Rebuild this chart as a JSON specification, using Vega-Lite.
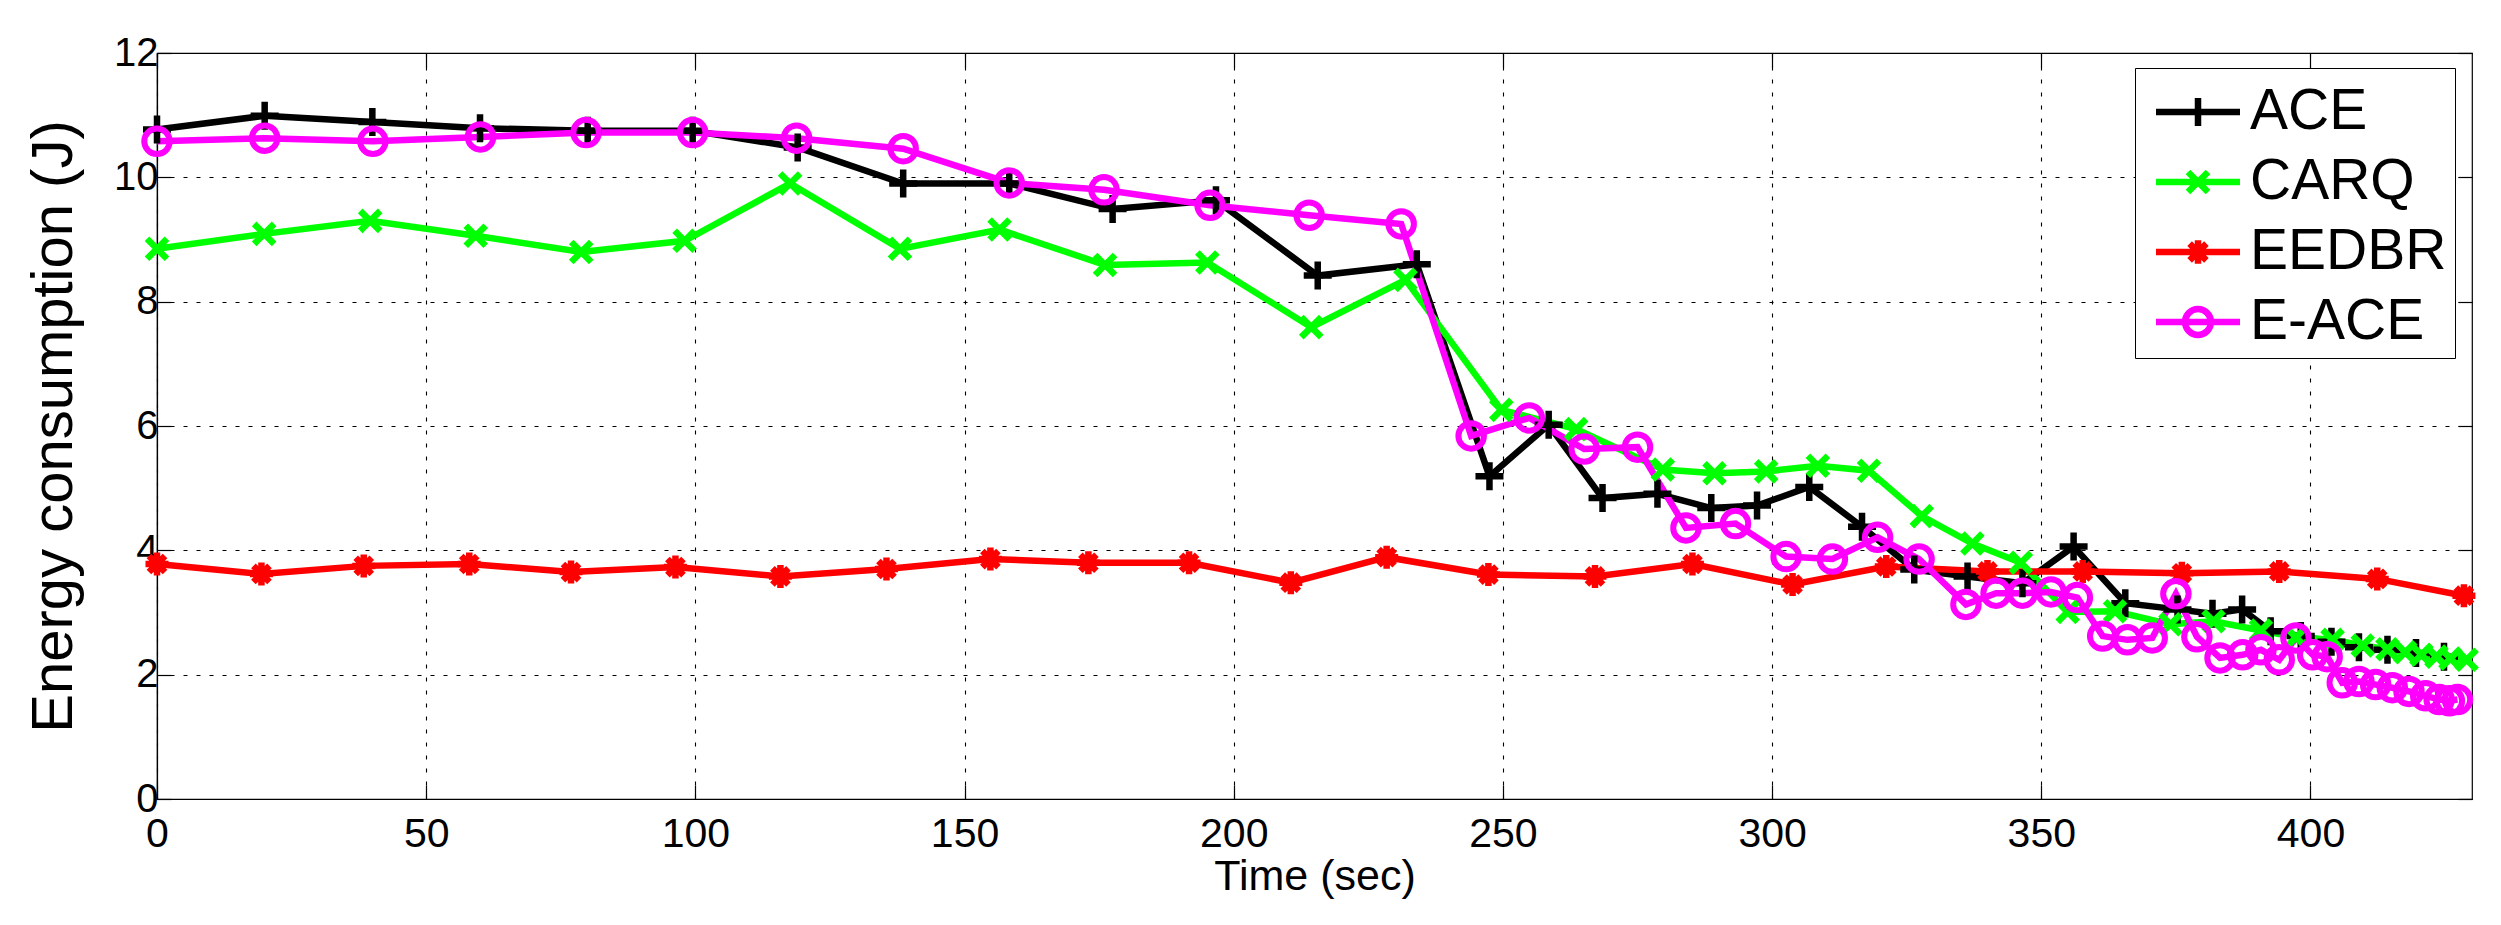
{
  "$schema": "https://vega.github.io/schema/vega-lite/v6.json",
  "width": 2315,
  "height": 746,
  "autosize": {"type": "none"},
  "padding": {"left": 157, "top": 53, "right": 29, "bottom": 126},
  "background": "white",
  "config": {
    "view": {"stroke": "black", "strokeWidth": 1.2},
    "axis": {
      "labelFont": "Liberation Sans",
      "titleFont": "Liberation Sans",
      "labelColor": "black",
      "titleColor": "black",
      "titleFontWeight": "normal",
      "domainColor": "black",
      "domainWidth": 1.2,
      "tickColor": "black",
      "tickWidth": 1.2,
      "gridColor": "black",
      "gridOpacity": 1,
      "gridWidth": 1.1,
      "gridDash": [4, 9],
      "labelFlush": false,
      "labelOverlap": false,
      "labelBound": false
    }
  },
  "data": {
    "values": [
      {"method": "ACE", "t": 0, "e": 10.77},
      {"method": "ACE", "t": 20, "e": 10.99},
      {"method": "ACE", "t": 40, "e": 10.89},
      {"method": "ACE", "t": 60, "e": 10.79},
      {"method": "ACE", "t": 80, "e": 10.75},
      {"method": "ACE", "t": 99.5, "e": 10.75},
      {"method": "ACE", "t": 119, "e": 10.48},
      {"method": "ACE", "t": 138.6, "e": 9.9},
      {"method": "ACE", "t": 158.3, "e": 9.9},
      {"method": "ACE", "t": 177.5, "e": 9.49},
      {"method": "ACE", "t": 196.7, "e": 9.63},
      {"method": "ACE", "t": 215.6, "e": 8.42},
      {"method": "ACE", "t": 234, "e": 8.6},
      {"method": "ACE", "t": 247.5, "e": 5.19},
      {"method": "ACE", "t": 258.5, "e": 6.02},
      {"method": "ACE", "t": 268.5, "e": 4.84},
      {"method": "ACE", "t": 278.7, "e": 4.91},
      {"method": "ACE", "t": 288.7, "e": 4.68},
      {"method": "ACE", "t": 297.2, "e": 4.72},
      {"method": "ACE", "t": 306.9, "e": 5.02},
      {"method": "ACE", "t": 316.7, "e": 4.38},
      {"method": "ACE", "t": 326.4, "e": 3.69},
      {"method": "ACE", "t": 336.3, "e": 3.58},
      {"method": "ACE", "t": 346.5, "e": 3.47},
      {"method": "ACE", "t": 356, "e": 4.06},
      {"method": "ACE", "t": 365.6, "e": 3.15},
      {"method": "ACE", "t": 375.3, "e": 3.05},
      {"method": "ACE", "t": 381.8, "e": 2.98},
      {"method": "ACE", "t": 387.3, "e": 3.05},
      {"method": "ACE", "t": 392.6, "e": 2.7},
      {"method": "ACE", "t": 398.2, "e": 2.62},
      {"method": "ACE", "t": 403.9, "e": 2.53},
      {"method": "ACE", "t": 409, "e": 2.44},
      {"method": "ACE", "t": 414.3, "e": 2.4},
      {"method": "ACE", "t": 419.6, "e": 2.35},
      {"method": "ACE", "t": 424.8, "e": 2.29},
      {"method": "CARQ", "t": 0, "e": 8.85},
      {"method": "CARQ", "t": 19.9, "e": 9.09},
      {"method": "CARQ", "t": 39.6, "e": 9.3},
      {"method": "CARQ", "t": 59.2, "e": 9.06},
      {"method": "CARQ", "t": 78.8, "e": 8.8},
      {"method": "CARQ", "t": 98, "e": 8.98},
      {"method": "CARQ", "t": 117.6, "e": 9.9},
      {"method": "CARQ", "t": 138, "e": 8.85},
      {"method": "CARQ", "t": 156.5, "e": 9.16},
      {"method": "CARQ", "t": 176.1, "e": 8.59},
      {"method": "CARQ", "t": 195.1, "e": 8.63},
      {"method": "CARQ", "t": 214.4, "e": 7.59},
      {"method": "CARQ", "t": 231.9, "e": 8.35},
      {"method": "CARQ", "t": 249.7, "e": 6.26},
      {"method": "CARQ", "t": 263.6, "e": 5.95},
      {"method": "CARQ", "t": 279.7, "e": 5.3},
      {"method": "CARQ", "t": 289.3, "e": 5.24},
      {"method": "CARQ", "t": 298.9, "e": 5.27},
      {"method": "CARQ", "t": 308.5, "e": 5.36},
      {"method": "CARQ", "t": 318, "e": 5.28},
      {"method": "CARQ", "t": 327.8, "e": 4.55},
      {"method": "CARQ", "t": 337.2, "e": 4.11},
      {"method": "CARQ", "t": 346.2, "e": 3.8},
      {"method": "CARQ", "t": 354.9, "e": 3.01},
      {"method": "CARQ", "t": 363.7, "e": 3.02},
      {"method": "CARQ", "t": 374, "e": 2.81},
      {"method": "CARQ", "t": 382, "e": 2.86},
      {"method": "CARQ", "t": 390.8, "e": 2.71},
      {"method": "CARQ", "t": 397.3, "e": 2.6},
      {"method": "CARQ", "t": 404.1, "e": 2.56},
      {"method": "CARQ", "t": 409.7, "e": 2.47},
      {"method": "CARQ", "t": 414.3, "e": 2.41},
      {"method": "CARQ", "t": 417.6, "e": 2.36},
      {"method": "CARQ", "t": 420.6, "e": 2.32},
      {"method": "CARQ", "t": 423.4, "e": 2.29},
      {"method": "CARQ", "t": 426, "e": 2.26},
      {"method": "CARQ", "t": 429, "e": 2.24},
      {"method": "EEDBR", "t": 0, "e": 3.78},
      {"method": "EEDBR", "t": 19.4, "e": 3.62},
      {"method": "EEDBR", "t": 38.4, "e": 3.75},
      {"method": "EEDBR", "t": 58, "e": 3.78},
      {"method": "EEDBR", "t": 76.9, "e": 3.65},
      {"method": "EEDBR", "t": 96.3, "e": 3.73},
      {"method": "EEDBR", "t": 115.8, "e": 3.58},
      {"method": "EEDBR", "t": 135.5, "e": 3.7},
      {"method": "EEDBR", "t": 154.8, "e": 3.86},
      {"method": "EEDBR", "t": 173, "e": 3.8},
      {"method": "EEDBR", "t": 191.7, "e": 3.8},
      {"method": "EEDBR", "t": 210.6, "e": 3.48},
      {"method": "EEDBR", "t": 228.4, "e": 3.89},
      {"method": "EEDBR", "t": 247.3, "e": 3.61},
      {"method": "EEDBR", "t": 267.1, "e": 3.58},
      {"method": "EEDBR", "t": 285.2, "e": 3.78},
      {"method": "EEDBR", "t": 303.8, "e": 3.45},
      {"method": "EEDBR", "t": 321.2, "e": 3.74},
      {"method": "EEDBR", "t": 340, "e": 3.66},
      {"method": "EEDBR", "t": 357.7, "e": 3.66},
      {"method": "EEDBR", "t": 376.1, "e": 3.63},
      {"method": "EEDBR", "t": 394.2, "e": 3.66},
      {"method": "EEDBR", "t": 412.4, "e": 3.54},
      {"method": "EEDBR", "t": 428.5, "e": 3.27},
      {"method": "E-ACE", "t": 0, "e": 10.58},
      {"method": "E-ACE", "t": 20, "e": 10.63},
      {"method": "E-ACE", "t": 40.1, "e": 10.58},
      {"method": "E-ACE", "t": 60.1, "e": 10.65},
      {"method": "E-ACE", "t": 79.7, "e": 10.72},
      {"method": "E-ACE", "t": 99.5, "e": 10.72},
      {"method": "E-ACE", "t": 118.8, "e": 10.63},
      {"method": "E-ACE", "t": 138.6, "e": 10.46},
      {"method": "E-ACE", "t": 158.3, "e": 9.91},
      {"method": "E-ACE", "t": 175.9, "e": 9.8},
      {"method": "E-ACE", "t": 195.6, "e": 9.55},
      {"method": "E-ACE", "t": 214, "e": 9.39},
      {"method": "E-ACE", "t": 231.1, "e": 9.25},
      {"method": "E-ACE", "t": 244.1, "e": 5.84},
      {"method": "E-ACE", "t": 254.9, "e": 6.13},
      {"method": "E-ACE", "t": 265.1, "e": 5.63},
      {"method": "E-ACE", "t": 275, "e": 5.66},
      {"method": "E-ACE", "t": 284, "e": 4.36},
      {"method": "E-ACE", "t": 293.2, "e": 4.43},
      {"method": "E-ACE", "t": 302.6, "e": 3.9},
      {"method": "E-ACE", "t": 311.2, "e": 3.86},
      {"method": "E-ACE", "t": 319.6, "e": 4.21},
      {"method": "E-ACE", "t": 327.3, "e": 3.86},
      {"method": "E-ACE", "t": 336, "e": 3.13},
      {"method": "E-ACE", "t": 341.6, "e": 3.31},
      {"method": "E-ACE", "t": 346.5, "e": 3.31},
      {"method": "E-ACE", "t": 351.8, "e": 3.33},
      {"method": "E-ACE", "t": 356.7, "e": 3.24},
      {"method": "E-ACE", "t": 361.4, "e": 2.62},
      {"method": "E-ACE", "t": 366, "e": 2.56},
      {"method": "E-ACE", "t": 370.6, "e": 2.59},
      {"method": "E-ACE", "t": 375, "e": 3.3},
      {"method": "E-ACE", "t": 378.9, "e": 2.61},
      {"method": "E-ACE", "t": 383.2, "e": 2.27},
      {"method": "E-ACE", "t": 387.4, "e": 2.32},
      {"method": "E-ACE", "t": 390.8, "e": 2.4},
      {"method": "E-ACE", "t": 394.2, "e": 2.24},
      {"method": "E-ACE", "t": 397.3, "e": 2.59},
      {"method": "E-ACE", "t": 400.4, "e": 2.32},
      {"method": "E-ACE", "t": 403.1, "e": 2.29},
      {"method": "E-ACE", "t": 405.9, "e": 1.87},
      {"method": "E-ACE", "t": 409, "e": 1.89},
      {"method": "E-ACE", "t": 412.1, "e": 1.84},
      {"method": "E-ACE", "t": 415.2, "e": 1.79},
      {"method": "E-ACE", "t": 418.3, "e": 1.73},
      {"method": "E-ACE", "t": 421.4, "e": 1.66},
      {"method": "E-ACE", "t": 423.9, "e": 1.6},
      {"method": "E-ACE", "t": 425.8, "e": 1.58},
      {"method": "E-ACE", "t": 427.3, "e": 1.6}
    ]
  },
  "layer": [
    {
      "mark": {"type": "line", "strokeWidth": 6.5},
      "encoding": {
        "x": {
          "field": "t",
          "type": "quantitative",
          "scale": {"domain": [0, 430], "nice": false, "zero": false},
          "axis": {
            "values": [0, 50, 100, 150, 200, 250, 300, 350, 400],
            "title": "Time (sec)",
            "titleFontSize": 43,
            "labelFontSize": 41,
            "tickSize": -14,
            "labelPadding": 29,
            "titlePadding": 1
          }
        },
        "y": {
          "field": "e",
          "type": "quantitative",
          "scale": {"domain": [0, 12], "nice": false},
          "axis": {
            "values": [0, 2, 4, 6, 8, 10, 12],
            "title": "Energy consumption (J)",
            "titleFontSize": 58,
            "labelFontSize": 40,
            "tickSize": -14,
            "labelPadding": 13,
            "titlePadding": 30
          }
        },
        "stroke": {
          "field": "method",
          "type": "nominal",
          "scale": {
            "domain": ["ACE", "CARQ", "E-ACE", "EEDBR"],
            "range": ["#000000", "#00ff00", "#ff00ff", "#ff0000"]
          },
          "legend": null
        }
      }
    },
    {
      "transform": [{"filter": {"field": "method", "equal": "ACE"}}],
      "mark": {"type": "point", "shape": "M-1,0L1,0M0,-1L0,1", "size": 784, "filled": false, "stroke": "#000000", "strokeWidth": 6.5, "opacity": 1},
      "encoding": {
        "x": {"field": "t", "type": "quantitative", "axis": null},
        "y": {"field": "e", "type": "quantitative", "axis": null}
      }
    },
    {
      "transform": [{"filter": {"field": "method", "equal": "CARQ"}}],
      "mark": {"type": "point", "shape": "M-1,-1L1,1M-1,1L1,-1", "size": 400, "filled": false, "stroke": "#00ff00", "strokeWidth": 6.5, "opacity": 1},
      "encoding": {
        "x": {"field": "t", "type": "quantitative", "axis": null},
        "y": {"field": "e", "type": "quantitative", "axis": null}
      }
    },
    {
      "transform": [{"filter": {"field": "method", "equal": "EEDBR"}}],
      "mark": {"type": "point", "shape": "M-1,0L1,0M0,-1L0,1M-0.7,-0.7L0.7,0.7M-0.7,0.7L0.7,-0.7", "size": 529, "filled": false, "stroke": "#ff0000", "strokeWidth": 6.5, "opacity": 1},
      "encoding": {
        "x": {"field": "t", "type": "quantitative", "axis": null},
        "y": {"field": "e", "type": "quantitative", "axis": null}
      }
    },
    {
      "transform": [{"filter": {"field": "method", "equal": "E-ACE"}}],
      "mark": {"type": "point", "shape": "circle", "size": 650, "filled": false, "stroke": "#ff00ff", "strokeWidth": 6, "opacity": 1},
      "encoding": {
        "x": {
          "field": "t",
          "type": "quantitative",
          "axis": {
            "orient": "top",
            "values": [0, 50, 100, 150, 200, 250, 300, 350, 400],
            "labels": false,
            "grid": false,
            "domain": false,
            "tickSize": -14,
            "title": null
          }
        },
        "y": {
          "field": "e",
          "type": "quantitative",
          "axis": {
            "orient": "right",
            "values": [0, 2, 4, 6, 8, 10, 12],
            "labels": false,
            "grid": false,
            "domain": false,
            "tickSize": -14,
            "title": null
          }
        }
      }
    },
    {
      "transform": [{"filter": {"field": "method", "equal": "legend only"}}],
      "mark": {"type": "point", "filled": false, "strokeWidth": 6.5},
      "encoding": {
        "color": {
          "field": "method",
          "type": "nominal",
          "scale": {
            "domain": ["ACE", "CARQ", "EEDBR", "E-ACE"],
            "range": ["#000000", "#00ff00", "#ff0000", "#ff00ff"]
          },
          "legend": {
            "orient": "none",
            "legendX": 1978,
            "legendY": 15,
            "title": null,
            "labelFont": "Liberation Sans",
            "labelFontSize": 57,
            "labelColor": "black",
            "labelLimit": 400,
            "strokeColor": "black",
            "fillColor": "white",
            "padding": 8,
            "symbolOffset": 19,
            "labelOffset": 16,
            "symbolSize": 4174,
            "symbolStrokeWidth": 6.5,
            "symbolOpacity": 1,
            "rowPadding": 6
          }
        },
        "shape": {
          "field": "method",
          "type": "nominal",
          "scale": {
            "domain": ["ACE", "CARQ", "EEDBR", "E-ACE"],
            "range": [
              "M-1.3,0L1.3,0M0,-0.43L0,0.43",
              "M-1.3,0L1.3,0M-0.31,-0.31L0.31,0.31M-0.31,0.31L0.31,-0.31",
              "M-1.3,0L1.3,0M0,-0.36L0,0.36M-0.26,-0.26L0.26,0.26M-0.26,0.26L0.26,-0.26",
              "M-1.3,0L1.3,0M0.4,0C0.4,0.221 0.221,0.4 0,0.4C-0.221,0.4 -0.4,0.221 -0.4,0C-0.4,-0.221 -0.221,-0.4 0,-0.4C0.221,-0.4 0.4,-0.221 0.4,0"
            ]
          },
          "legend": {
            "orient": "none",
            "legendX": 1978,
            "legendY": 15,
            "title": null,
            "labelFont": "Liberation Sans",
            "labelFontSize": 57,
            "labelColor": "black",
            "labelLimit": 400,
            "strokeColor": "black",
            "fillColor": "white",
            "padding": 8,
            "symbolOffset": 19,
            "labelOffset": 16,
            "symbolSize": 4174,
            "symbolStrokeWidth": 6.5,
            "symbolOpacity": 1,
            "rowPadding": 6
          }
        }
      }
    }
  ],
  "resolve": {"axis": {"x": "independent", "y": "independent"}}
}
